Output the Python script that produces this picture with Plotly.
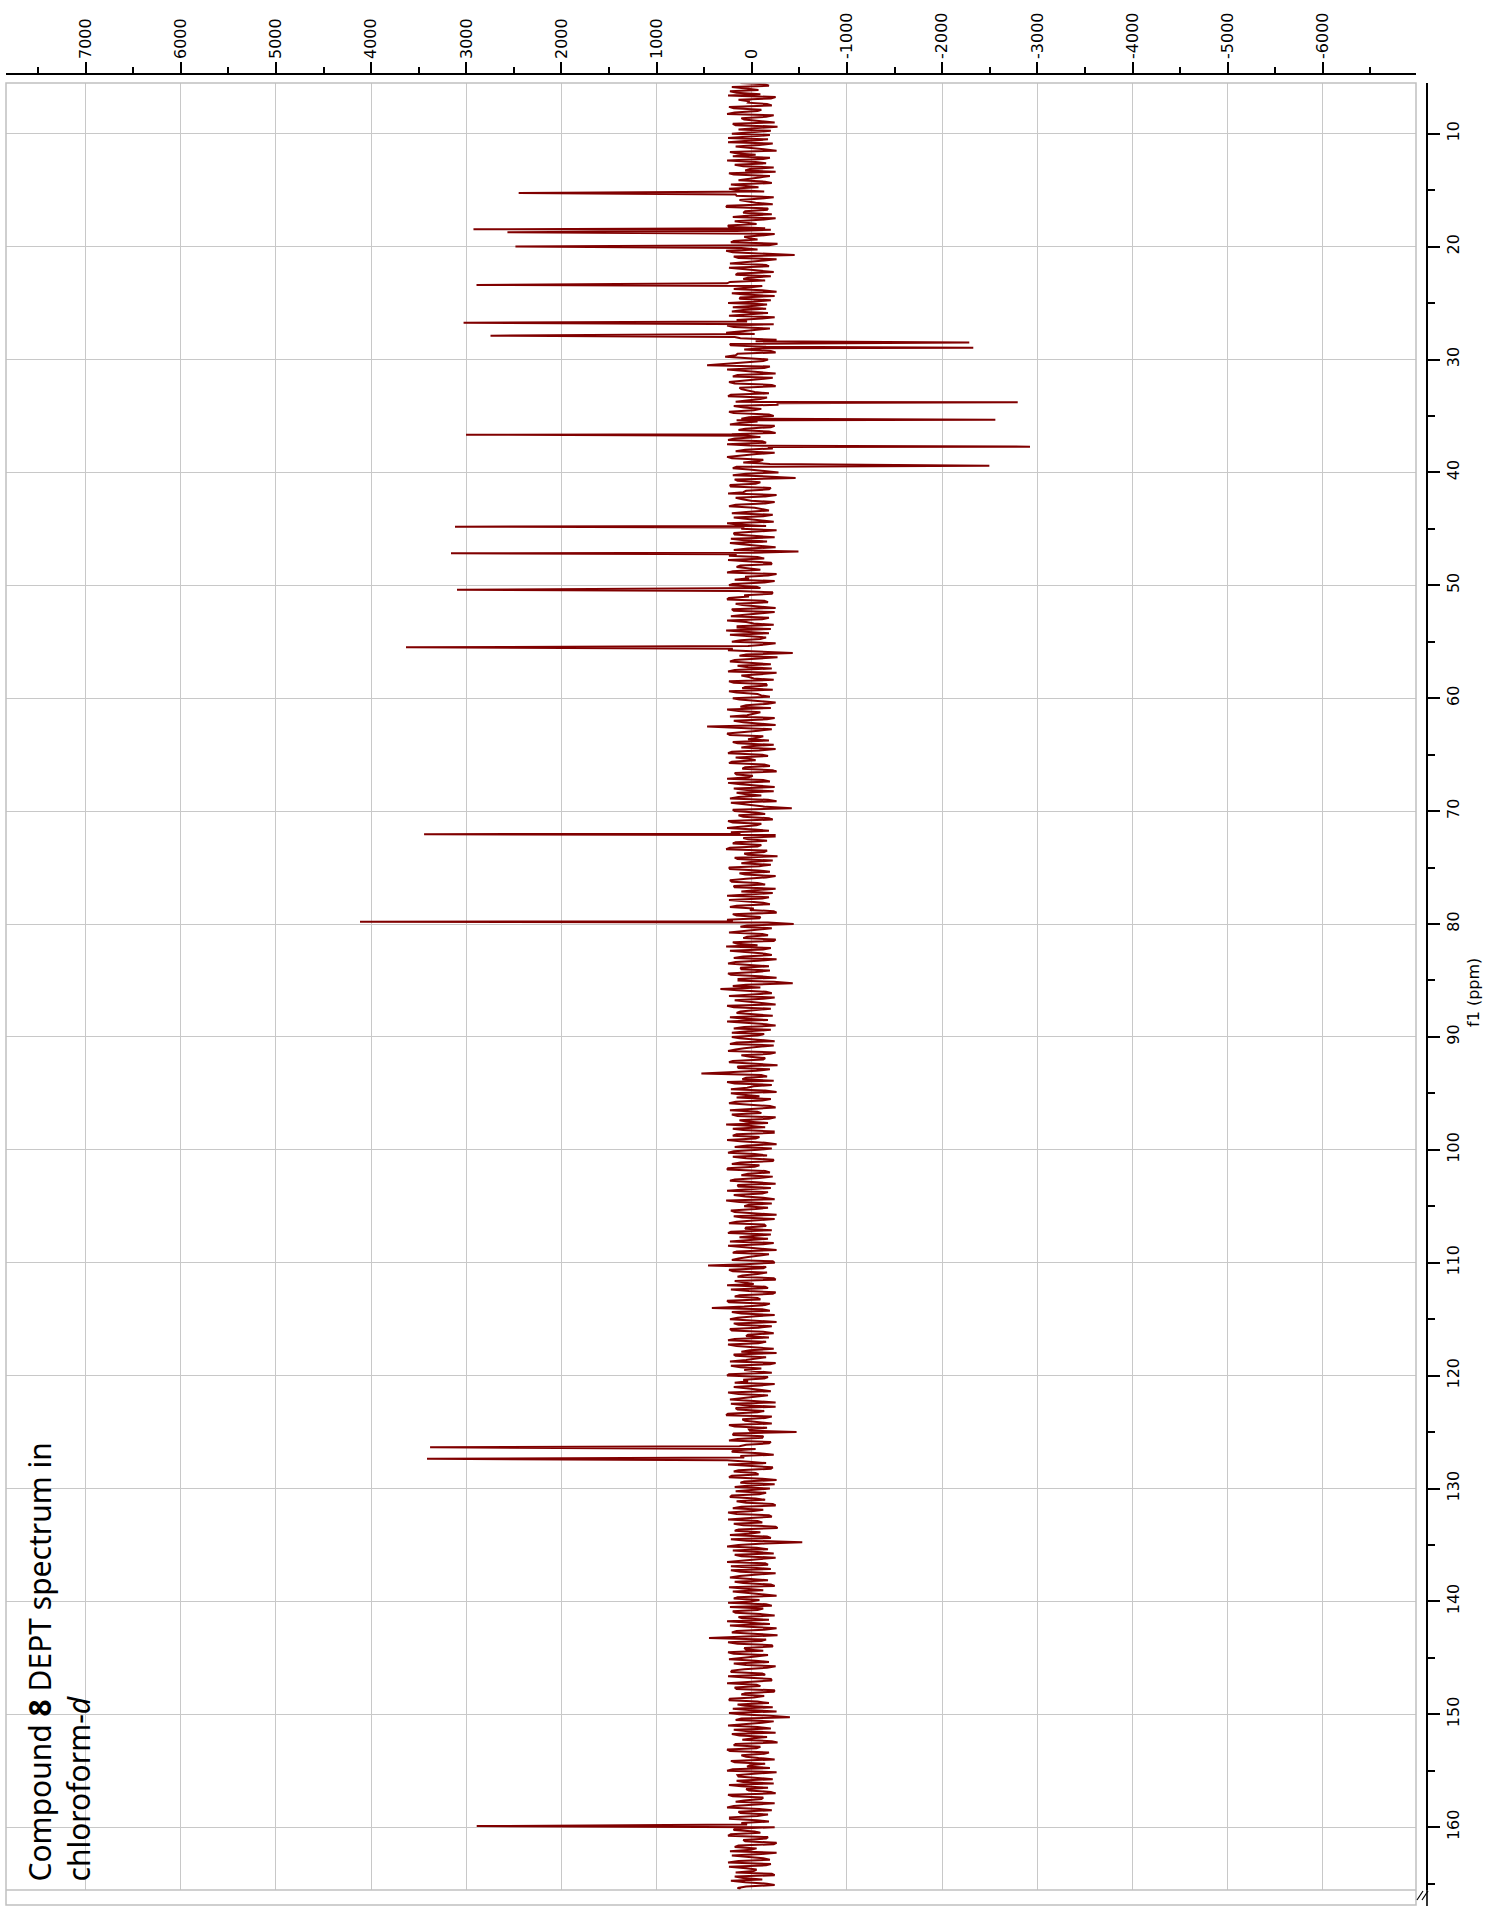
import numpy as np
import plotly.graph_objects as go

# ---------------- data ----------------
# baseline noise, sampled every 0.125 ppm: NOISE_A at 5.5 + 0.25k, NOISE_B at 5.625 + 0.25k
NOISE_PPM_START = 5.5
NOISE_PPM_STEP = 0.25
NOISE_A = [
    120, -180, 60, 230, -90, -250, 140, 40, -210, 190, -60, 260, -150, 80, -240, 170, -30, -200, 210, 90,
    -170, 250, -80, 30, -260, 150, 200, -120, -40, 180, -230, 70, 240, -190, 10, -140, 220, -70, 130, -280,
    160, -100, 50, -220, 270, -160, 90, 20, -250, 180, -50, 240, -200, 110, -130, 30, 190, -270, 80, -60,
    200, -450, 140, -90, 230, -180, 60, -230, 170, 40, -140, 260, -110, 190, -260, 70, 120, -200, 250, -40,
    -150, 210, 30, -240, 160, -80, 260, -190, 100, -30, 180, -260, 50, 220, -120, -200, 150, 280, -170, 60,
    470, -130, 90, -250, 200, -60, 240, -210, 130, 20, -180, 250, -90, 170, -270, 80, -20, 190, -230, 110,
    -60, 230, -200, 140, -250, 40, 180, -110, 260, -170, 70, -240, 120, 210, -80, -190, 160, 30, -280, 200,
    -460, 150, -40, 220, -180, 90, -260, 170, 10, -140, 240, -100, 60, -220, 190, -70, 260, -150, 110, -30,
    180, -240, 80, 230, -120, 40, -490, 160, -60, 250, -200, 120, -10, 200, -260, 70, 180, -130, 240, -90,
    140, -210, 30, 260, -170, 100, -250, 190, -40, 220, -110, 60, -230, 150, 270, -180, 20, -90, 210, -140,
    90, 250, -430, 130, -60, 230, -200, 40, 180, -260, 110, -20, 240, -150, 70, -220, 160, -100, 200, -30,
    -170, 120, 260, -90, 50, -240, 190, -130, 470, -210, 80, 230, -60, -180, 150, 20, -250, 210, -110, 170,
    -40, 240, -190, 100, -260, 160, 30, -120, 250, -80, 190, -230, 60, 140, -170, 220, -20, -420, 180, -140,
    90, -220, 200, -50, 260, -180, 120, -240, 40, 170, -100, 230, -160, 80, -270, 150, 10, -200, 240, -70,
    130, -250, 60, 210, -140, 180, -30, -220, 260, -110, 70, -190, 230, 20, -260, 160, -80, 200, -440, 120,
    -60, 240, -170, 90, -230, 150, 270, -120, 30, -210, 190, -70, 250, -180, 110, -40, 220, -260, 140, -430,
    200, 330, -150, 60, -240, 180, -90, 260, -200, 120, -20, 230, -170, 70, -250, 190, 40, -130, 210, -60,
    160, -230, 80, 250, -190, 20, -120, 240, -270, 140, -50, 530, -160, 100, 260, -210, 50, -140, 220, -80,
    -200, 170, 30, -250, 230, -100, 150, -180, 60, 270, -140, 90, -230, 200, -40, 120, -260, 180, -70, 250,
    -160, 60, -220, 210, -30, 260, -190, 110, -80, 230, -250, 140, 20, -170, 190, -120, 270, -210, 80, -40,
    180, -260, 100, -50, 240, -150, 70, 220, -200, 130, -10, -230, 250, -110, 160, -180, 40, 210, -240, 460,
    -120, 200, -60, 150, -250, 90, 260, -170, 30, -220, 180, -90, 240, -140, 420, -190, 110, -40, 230, -260,
    140, -70, 210, -230, 60, 180, -150, 250, -100, 20, -260, 170, -30, 230, -190, 120, 80, -210, 260, -130,
    40, -240, 190, -90, 250, -170, 110, -20, 220, -250, 150, -60, 270, -140, 70, -210, 180, 30, -470, 200,
    -110, 240, -180, 130, -40, 210, -230, 80, 260, -150, 20, -200, 190, -70, 240, -260, 120, 50, -190, 170,
    -80, 230, -140, 60, -250, 200, -20, 160, -210, 250, -110, 90, -270, 180, 30, -160, 220, -530, 140, -50,
    200, -230, 110, -90, 260, -170, 50, 220, -250, 130, -30, 180, -200, 240, -120, 70, -260, 190, 10, -150,
    230, -60, 170, -240, 100, 260, -190, 40, -130, 210, -270, 450, -100, 150, -220, 60, 250, -170, 120, -40,
    190, -250, 80, 220, -140, 30, -210, 260, -90, 160, -230, 110, -20, 240, -180, 70, 200, -260, 130, -400,
    170, -110, 250, -200, 40, 210, -160, 100, -270, 190, -50, 230, -130, 60, -240, 180, 20, -190, 260, -80,
    140, -220, 90, 240, -170, 30, -250, 200, -100, 170, -30, 260, -210, 120, -60, 230, -180, 50, -240, 190,
    -90, 250, -150, 70, -230, 180, 10, -260, 210, -120, 140, -200, 240, -50, 170, -240, 90, 220, -160, 60,
    120,
]
NOISE_B = [
    -140, 210, -70, 160, 250, -200, 30, -160, 240, -100, 180, -230, 110, -50, 200, -270, 140, 60, -190, 250,
    80, -220, 170, -110, 230, -40, -190, 260, -150, 90, 20, -250, 190, -80, 140, -210, 50, 240, -130, 170,
    -230, 130, -40, 260, -170, 70, -210, 200, -90, 30, 250, -140, 160, -240, 80, -60, 220, -180, 110, 270,
    -120, 190, -260, 60, -150, 240, -30, 150, -200, 90, 230, -170, 40, -110, 210, -240, 130, -20, -160, 200,
    90, -170, 240, -110, 50, -230, 190, -60, 270, -200, 120, -40, 230, -150, 80, -250, 170, 20, -120, 210,
    -190, 260, -80, 150, -220, 40, 180, -250, 110, -30, 220, -160, 70, -270, 190, -100, 240, -180, 30, 160,
    130, -240, 70, -180, 210, -90, 250, -150, 20, -220, 170, -50, 260, -120, 90, -260, 200, -130, 60, -210,
    180, -90, 230, -200, 60, 250, -140, 100, -240, 170, -30, -180, 210, -120, 40, -230, 150, 80, -260, 190,
    -70, 220, -160, 110, -250, 190, -20, 240, -130, 60, -210, 160, -90, 260, -170, 30, -240, 200, -50, 150,
    -220, 80, 240, -130, 170, -60, 210, -240, 100, -180, 260, -20, 150, -200, 60, 230, -150, 120, -250, 40,
    200, -120, 60, -270, 180, -40, 150, -210, 250, -90, 30, -230, 190, -160, 100, 240, -60, -190, 130, -250,
    60, -200, 140, -30, 230, -160, 90, -250, 170, -70, 260, -120, 40, 200, -230, 110, -80, 250, -170, 20,
    210, -130, 70, -220, 180, -10, 260, -190, 120, -240, 50, 160, -100, 230, -260, 80, -150, 200, -40, 140,
    -180, 250, -100, 150, -30, 220, -240, 90, -160, 200, -60, 270, -130, 40, 180, -220, 110, -80, 230, -190,
    70, -150, 230, -60, 190, -250, 110, 40, -180, 240, -120, 160, -20, -230, 200, -90, 260, -170, 50, -210,
    160, -110, 50, -250, 200, -60, -200, 230, -140, 90, -260, 170, -20, 120, -190, 250, -80, 140, -230, 60,
    -90, 150, -210, 240, -120, 40, -250, 190, -30, 160, -220, 100, 260, -150, 80, -200, 210, -60, 130, -240,
    230, -60, 170, -250, 110, -140, 200, -40, 150, -190, 240, -100, 60, -230, 180, -20, 220, -260, 90, 160,
    -110, 240, -190, 70, -60, 210, -250, 130, -170, 30, 200, -230, 160, -80, 260, -140, 50, -210, 190, -30,
    200, -230, 120, -80, 250, -140, 40, -220, 180, -50, 150, -200, 260, -110, 70, -240, 130, 30, -170, 220,
    -90, 190, -240, 160, -130, 60, -210, 250, -30, -170, 230, -120, 90, -260, 200, -50, 140, -220, 70, -150,
    240, -160, 100, -230, 180, -20, -140, 220, -250, 130, -60, 260, -190, 80, -110, 210, -240, 150, -70, 190,
    -210, 230, -120, 40, -180, 250, -70, 160, -230, 110, 190, -150, 60, -250, 220, -100, -40, 240, -170, 90,
    180, -90, 60, -200, 140, -30, 230, -250, 70, 170, -130, 250, -210, 100, -60, 240, -160, 20, 190, -120,
    150, -200, 60, -250, 190, -80, 120, -160, 30, 250, -220, 140, -40, 210, -110, 80, -240, 180, -20, -150,
    210, -40, 160, -220, 110, -120, 250, -180, 60, -60, 190, -250, 140, -90, 230, -200, 50, -140, 260, -170,
    -60, 180, -250, 60, -140, 220, -200, 120, -30, 230, -170, 90, -240, 40, 200, -130, 150, -80, 250, -210,
    -120, 200, -90, 140, -180, 50, 230, -260, 160, -60, 120, -150, 250, -210, 80, -120, 190, -40, 240, -180,
    60, -160, 210, -110, 250, -200, 100, -50, 180, -240, 70, -130, 230, -60, 150, -220, 30, 240, -190, 110,
    -230, 90, -60, 190, -250, 130, -20, -210, 170, -90, 260, -180, 110, -70, 220, -140, 50, 200, -260, 150,
    -40, 160, -230, 110, 60, -200, 250, -120, 80, -240, 190, -80, 140, -170, 230, -50, 110, -250, 180, -30,
    220, -170, 90, -260, 140, -50, 230, -100, 40, -190, 250, -150, 60, -20, -210, 180, -110, 70, -240, 150,
]

# peaks: chemical shift (ppm) and intensity (positive = CH/CH3, negative = CH2)
PEAK_PPM = [15.25, 18.47, 18.73, 20.0, 23.40, 26.74, 27.89, 28.50, 28.95, 33.79, 35.33,
            36.66, 37.72, 39.40, 44.81, 47.17, 50.40, 55.49, 72.05, 79.80, 126.35, 127.36, 159.90]
PEAK_INT = [2450, 2925, 2568, 2484, 2893, 3029, 2746, -2285, -2327, -2794, -2559,
            3003, -2923, -2496, 3119, 3161, 3098, 3634, 3444, 4117, 3381, 3413, 2891]

X_TICKS = [7000, 6000, 5000, 4000, 3000, 2000, 1000, 0, -1000, -2000, -3000, -4000, -5000, -6000]
X_TICK_TEXT = ["7000", "6000", "5000", "4000", "3000", "2000", "1000", "0",
               "-1000", "-2000", "-3000", "-4000", "-5000", "-6000"]
Y_TICKS = [10, 20, 30, 40, 50, 60, 70, 80, 90, 100, 110, 120, 130, 140, 150, 160]

TITLE = "Compound <b>8</b> DEPT spectrum in<br>chloroform-<i>d</i>"
Y_TITLE = "f1 (ppm)"

# ---------------- build spectrum trace ----------------
ppm_a = NOISE_PPM_START + NOISE_PPM_STEP * np.arange(len(NOISE_A))
ppm_b = NOISE_PPM_START + NOISE_PPM_STEP / 2 + NOISE_PPM_STEP * np.arange(len(NOISE_B))
peak_arr = np.array(PEAK_PPM)
pts = []
for p, v in list(zip(ppm_a, NOISE_A)) + list(zip(ppm_b, NOISE_B)):
    if np.min(np.abs(peak_arr - p)) > 0.03:
        pts.append((float(p), v))
for p, v in zip(PEAK_PPM, PEAK_INT):
    pts.append((p, v))
pts.sort(key=lambda t: t[0])
spec_ppm = [t[0] for t in pts]
spec_int = [t[1] for t in pts]

# ---------------- figure ----------------
W, H = 1490, 1906
L, R, T, B = 6, 63, 74, 16
pw, ph = W - L - R, H - T - B
frame_left, frame_right, frame_top, frame_bottom = 6, 1416, 83, 1890


def px2paper_x(px):
    return (px - L) / pw


def px2paper_y(py):
    return (H - B - py) / ph


fig = go.Figure()
fig.add_trace(go.Scatter(
    x=spec_int, y=spec_ppm, mode="lines",
    line=dict(color="#800000", width=2.0),
    hoverinfo="skip", showlegend=False,
))

tick_font = dict(family="DejaVu Sans", size=16, color="#000000")
grid_col = "#c8c8c8"

fig.update_layout(
    width=W, height=H,
    margin=dict(l=L, r=R, t=T, b=B, pad=0, autoexpand=False),
    paper_bgcolor="white", plot_bgcolor="white",
    xaxis=dict(
        domain=[0, px2paper_x(frame_right)],
        range=[7837, -6979],
        side="top", anchor="free", position=1, automargin=False,
        tickmode="array", tickvals=X_TICKS, ticktext=X_TICK_TEXT,
        tickangle=-90, tickfont=tick_font,
        ticks="outside", ticklen=11, tickwidth=1.5, tickcolor="#000000",
        minor=dict(dtick=500, tick0=0, ticks="outside", ticklen=6,
                   tickwidth=1.5, tickcolor="#000000", showgrid=False),
        showline=True, linecolor="#000000", linewidth=1.6,
        showgrid=True, gridcolor=grid_col, gridwidth=1.3,
        zeroline=False,
    ),
    yaxis=dict(
        domain=[0, px2paper_y(frame_top)],
        range=[165.56, 5.51],
        side="right", anchor="free", position=1, automargin=False,
        tickmode="array", tickvals=Y_TICKS,
        tickangle=-90, tickfont=tick_font,
        ticks="outside", ticklen=12, tickwidth=1.5, tickcolor="#000000",
        minor=dict(dtick=5, tick0=0, ticks="outside", ticklen=7,
                   tickwidth=1.5, tickcolor="#000000", showgrid=False),
        showline=True, linecolor="#000000", linewidth=1.6,
        showgrid=True, gridcolor=grid_col, gridwidth=1.3,
        zeroline=False,
    ),
)

# frame
fig.add_shape(type="rect", xref="paper", yref="paper",
              x0=px2paper_x(frame_left), x1=px2paper_x(frame_right),
              y0=px2paper_y(1905), y1=px2paper_y(frame_top),
              line=dict(color="#c0c0c0", width=1.5), layer="above")
fig.add_shape(type="line", xref="paper", yref="paper",
              x0=px2paper_x(frame_left), x1=px2paper_x(frame_right),
              y0=px2paper_y(frame_bottom), y1=px2paper_y(frame_bottom),
              line=dict(color="#c0c0c0", width=1.5), layer="above")
# right axis extension with break marks
fig.add_shape(type="line", xref="paper", yref="paper",
              x0=1, x1=1, y0=px2paper_y(frame_bottom), y1=px2paper_y(1906),
              line=dict(color="#000000", width=1.6))
for dx in (-7, -2):
    fig.add_shape(type="line", xref="paper", yref="paper",
                  x0=px2paper_x(1427 + dx - 3), x1=px2paper_x(1427 + dx + 3),
                  y0=px2paper_y(1900), y1=px2paper_y(1891),
                  line=dict(color="#000000", width=1.2))

fig.add_annotation(text=Y_TITLE, xref="paper", yref="paper",
                   x=px2paper_x(1474), y=px2paper_y(993),
                   xanchor="center", yanchor="middle", textangle=-90,
                   showarrow=False, font=dict(family="DejaVu Sans", size=16, color="#000000"))

fig.add_annotation(text=TITLE, xref="paper", yref="paper",
                   x=px2paper_x(58), y=px2paper_y(1884),
                   xanchor="center", yanchor="bottom", textangle=-90, align="left",
                   showarrow=False, font=dict(family="Noto Sans", size=30, color="#000000"))

fig.write_html("out.html", config={"displayModeBar": False},
               post_script="document.body.style.margin='0px';")
